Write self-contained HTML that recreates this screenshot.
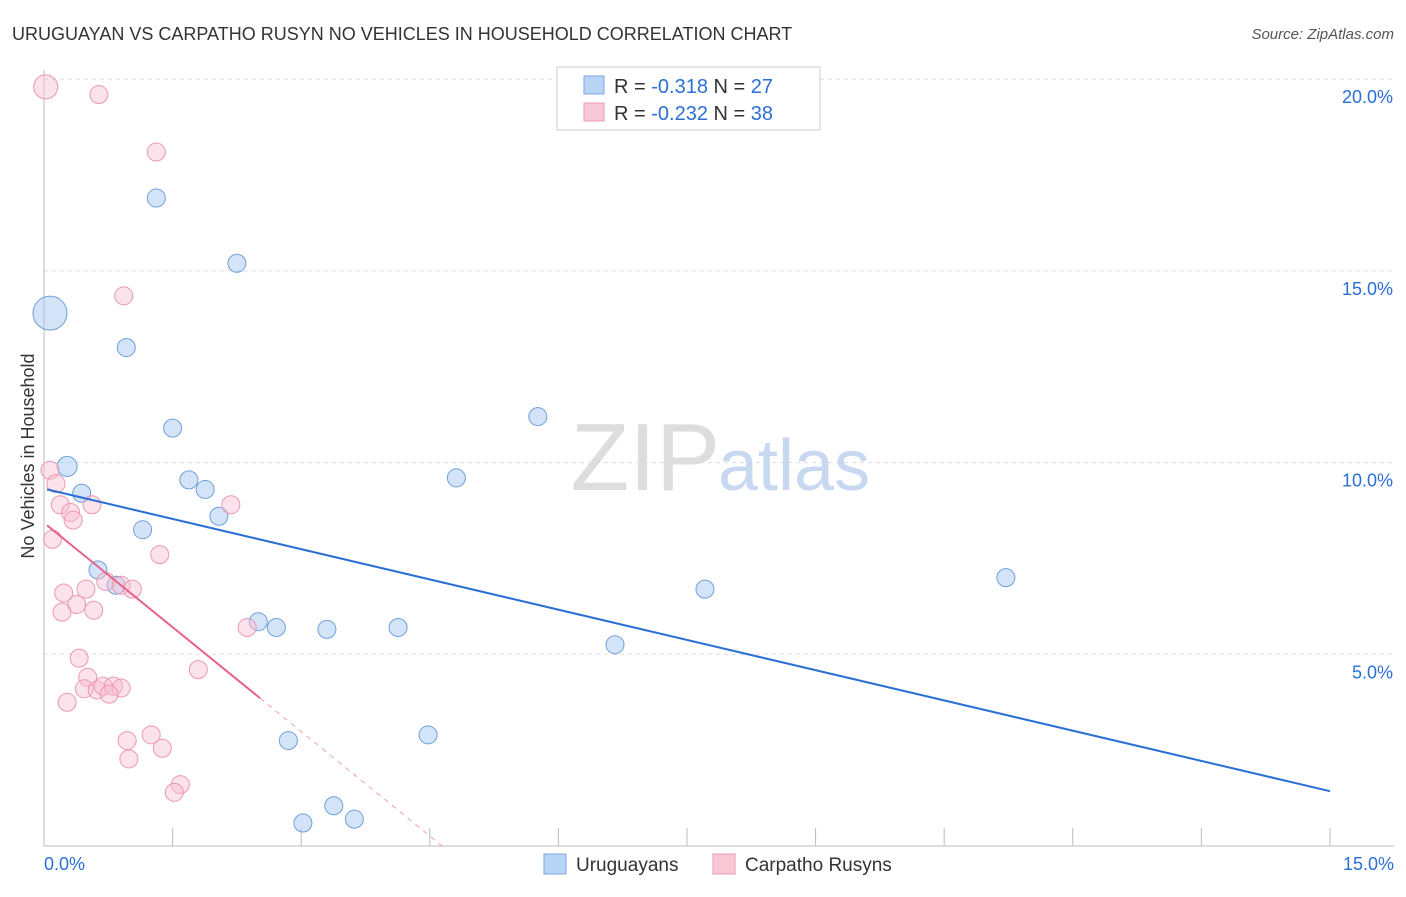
<!DOCTYPE html>
<html><head><meta charset="utf-8"><style>
body{margin:0;background:#fff;font-family:"Liberation Sans",sans-serif}
svg text{font-family:"Liberation Sans",sans-serif}
</style></head><body>
<svg id="c" width="1406" height="892">
<text x="12" y="40" font-size="18" fill="#333">URUGUAYAN VS CARPATHO RUSYN NO VEHICLES IN HOUSEHOLD CORRELATION CHART</text>
<text x="1394" y="39" font-size="15" fill="#555" text-anchor="end" font-style="italic">Source: ZipAtlas.com</text>
<text x="34" y="456" font-size="18" fill="#333" text-anchor="middle" transform="rotate(-90 34 456)">No Vehicles in Household</text>
<g id="grid"></g>
<text x="720" y="490" font-size="96" fill="#ddd" text-anchor="end" font-family="Liberation Serif">ZIP</text>
<text x="718" y="490" font-size="72" fill="#c8d8f0">atlas</text>
<g id="pts"></g>
<g>
<rect x="557" y="67" width="263" height="63" fill="#fff" stroke="#ccc"/>
<rect x="584" y="76" width="20" height="18" fill="#b8d4f4" stroke="#7aa9e4"/>
<text x="614" y="93" font-size="20" fill="#333">R = <tspan fill="#2a6fd6">-0.318</tspan>   N = <tspan fill="#2a6fd6">27</tspan></text>
<rect x="584" y="103" width="20" height="18" fill="#f8c8d6" stroke="#ee9ab4"/>
<text x="614" y="120" font-size="20" fill="#333">R = <tspan fill="#2a6fd6">-0.232</tspan>   N = <tspan fill="#2a6fd6">38</tspan></text>
</g>
<g>
<rect x="544" y="854" width="22" height="20" fill="#b8d4f4" stroke="#7aa9e4"/>
<text x="576" y="871" font-size="19" fill="#333">Uruguayans</text>
<rect x="713" y="854" width="22" height="20" fill="#f8c8d6" stroke="#ee9ab4"/>
<text x="745" y="871" font-size="19" fill="#333">Carpatho Rusyns</text>
</g>
</svg>
<script>
const blueX=[1.31,2.25,0.07,0.96,1.50,5.76,0.27,0.44,1.69,1.88,4.81,2.04,1.15,0.63,0.84,7.71,11.22,2.50,2.71,3.30,4.13,6.66,2.85,4.48,3.38,3.02,3.62];
const blueY=[16.9,15.2,13.9,13.0,10.9,11.2,9.9,9.2,9.55,9.3,9.6,8.6,8.25,7.2,6.8,6.7,7.0,5.85,5.7,5.65,5.7,5.25,2.75,2.9,1.05,0.6,0.7];
const blueR=[9,9,17,9,9,9,10,9,9,9,9,9,9,9,9,9,9,9,9,9,9,9,9,9,9,9,9];
const pinkX=[0.02,0.64,1.31,0.93,0.07,0.14,0.19,0.56,0.31,0.34,2.18,0.10,1.35,0.72,0.90,1.03,0.49,0.23,0.38,0.21,0.58,2.37,0.41,1.80,0.51,0.47,0.62,0.69,0.81,0.90,0.76,0.27,0.97,1.25,1.38,0.99,1.59,1.52];
const pinkY=[19.8,19.6,18.1,14.35,9.8,9.45,8.9,8.9,8.7,8.5,8.9,8.0,7.6,6.9,6.8,6.7,6.7,6.6,6.3,6.1,6.15,5.7,4.9,4.6,4.4,4.1,4.07,4.17,4.17,4.12,3.96,3.75,2.75,2.9,2.55,2.27,1.6,1.4];
const pinkR=[12,9,9,9,9,9,9,9,9,9,9,9,9,9,9,9,9,9,9,9,9,9,9,9,9,9,9,9,9,9,9,9,9,9,9,9,9,9];
const yTicks=[5,10,15,20];
const blueLine=[9.32,-0.526];
const pinkLine=[8.43,-1.815];
const NS="http://www.w3.org/2000/svg";
const sx=v=>44+v*85.73, sy=v=>846-v*38.34;
function mk(t,a,p){const e=document.createElementNS(NS,t);for(const k in a)e.setAttribute(k,a[k]);p.appendChild(e);return e;}
const g=document.getElementById('grid');
yTicks.forEach(t=>{
 const l=mk('line',{x1:44,x2:1394,y1:sy(t),y2:sy(t),stroke:'#ddd','stroke-dasharray':'4,4'},g);
 
 
 const tx=mk('text',{x:1393,y:sy(t)+24,'font-size':18,fill:'#2a6fd6','text-anchor':'end'},g);
 tx.textContent=t.toFixed(1)+'%';
 
 
});
const ax=mk('line',{x1:44,x2:1394,y1:846,y2:846,stroke:'#bbb'},g);


const ay=mk('line',{x1:44,x2:44,y1:70,y2:846,stroke:'#bbb'},g);


for(let i=1;i<=10;i++){const tk=mk('line',{x1:sx(i*1.5),x2:sx(i*1.5),y1:828,y2:846,stroke:'#bbb'},g);
 
 }
[[0,'0.0%','start',44],[15,'15.0%','end',1394]].forEach(d=>{const t=mk('text',{x:d[3],y:870,'font-size':18,fill:'#2a6fd6','text-anchor':d[2]},g);t.textContent=d[1];
 
 });
const p=document.getElementById('pts');
blueX.forEach((x,i)=>{const c=mk('circle',{cx:sx(x),cy:sy(blueY[i]),r:blueR[i],fill:'rgba(160,196,240,0.45)',stroke:'#6e9fdc','stroke-width':1},p);
 
 });
pinkX.forEach((x,i)=>{const c=mk('circle',{cx:sx(x),cy:sy(pinkY[i]),r:pinkR[i],fill:'rgba(248,190,208,0.45)',stroke:'#ec98b2','stroke-width':1},p);
 
 });
const bl=mk('line',{x1:sx(0.035),y1:sy(blueLine[0]+blueLine[1]*0.035),x2:sx(15),y2:sy(blueLine[0]+blueLine[1]*15),stroke:'#2a6fd6','stroke-width':2},p);


const pl=mk('line',{x1:sx(0.035),y1:sy(pinkLine[0]+pinkLine[1]*0.035),x2:sx(2.52),y2:sy(pinkLine[0]+pinkLine[1]*2.52),stroke:'#e8608e','stroke-width':2},p);


const xe=-pinkLine[0]/pinkLine[1];
const pd=mk('line',{x1:sx(2.52),y1:sy(pinkLine[0]+pinkLine[1]*2.52),x2:sx(xe),y2:sy(0),stroke:'#f0a0b8','stroke-width':1,'stroke-dasharray':'5,5'},p);


</script>
</body></html>
